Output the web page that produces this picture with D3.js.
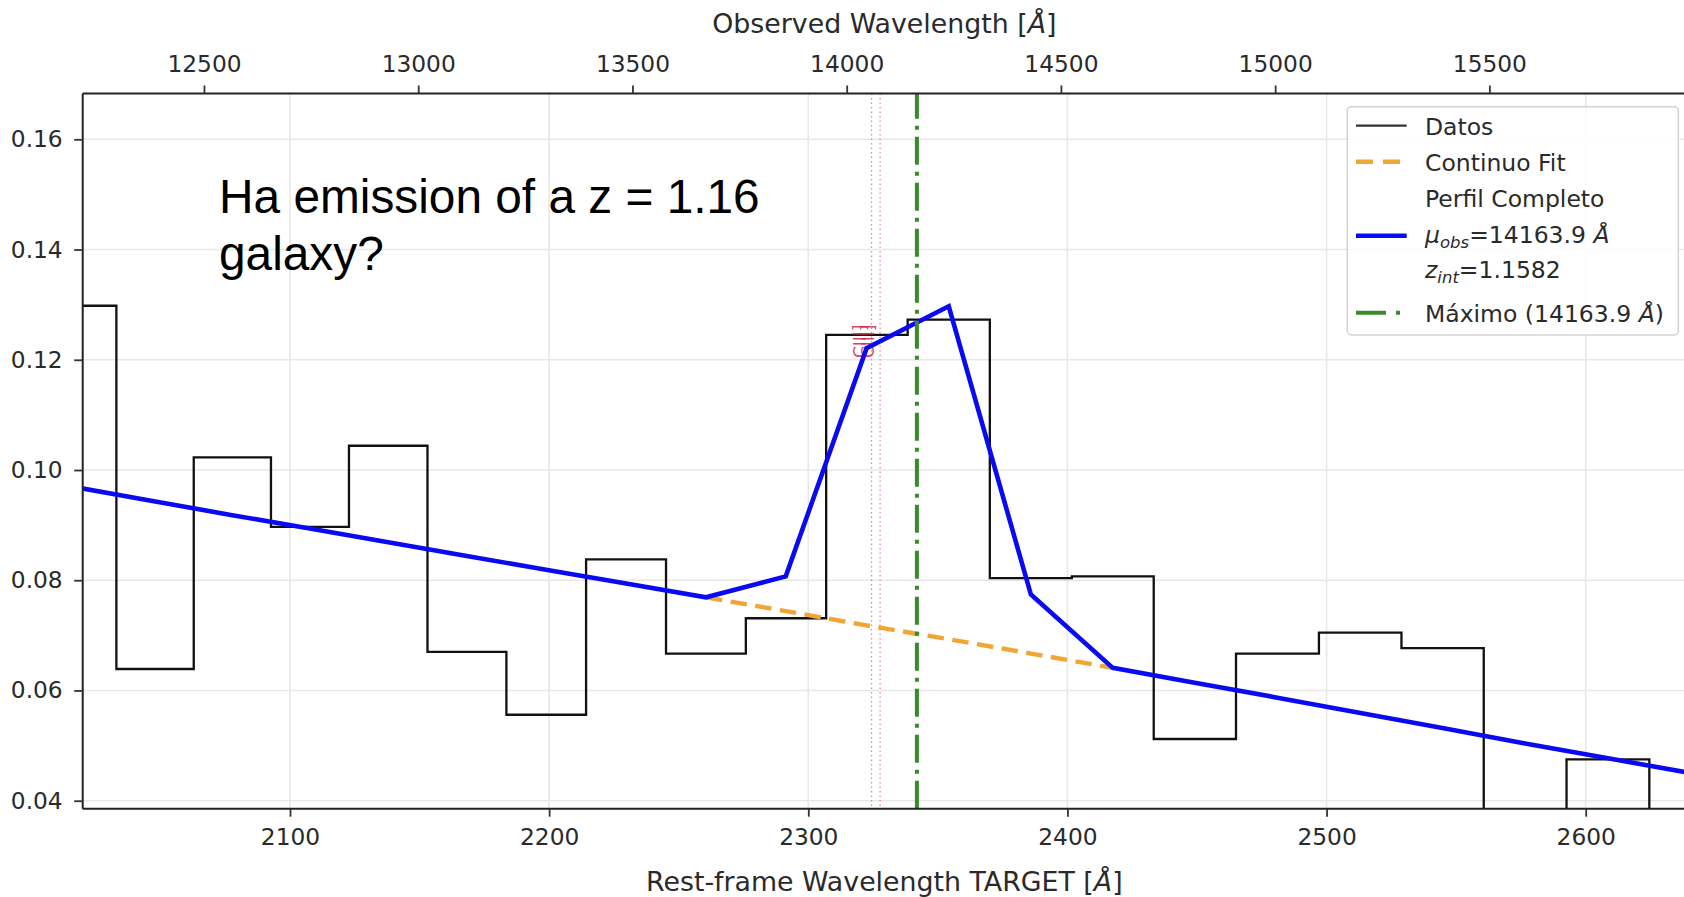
<!DOCTYPE html>
<html><head><meta charset="utf-8">
<script src="https://cdn.jsdelivr.net/npm/d3@7"></script>
<style>body{margin:0;background:#fff;} svg{display:block;}</style>
</head><body>
<svg id="chart" width="1684" height="897"></svg>
<script>
// ---- data ----
const restWavelength = [2018.0, 2048.0, 2077.7, 2107.6, 2137.9, 2168.2, 2198.8, 2229.7, 2260.5, 2291.3,
  2322.5, 2354.2, 2385.9, 2417.5, 2449.1, 2481.0, 2513.1, 2544.7, 2576.6, 2608.6, 2640.5];
const fluxData = [0.1298, 0.0639, 0.1023, 0.0897, 0.1044, 0.0670, 0.0556, 0.0838, 0.0667, 0.0731,
  0.1245, 0.1273, 0.0804, 0.0807, 0.0512, 0.0667, 0.0705, 0.0677, 0.0320, 0.0475, 0.0330];
const profileFlux = [0.0968, 0.0943, 0.0918, 0.0894, 0.0869, 0.0844, 0.0819, 0.0794, 0.0769, 0.0807,
  0.1221, 0.1297, 0.0774, 0.0641, 0.0614, 0.0587, 0.0559, 0.0532, 0.0504, 0.0477, 0.0450];
const contWavelength = [2260.5, 2291.3, 2322.5, 2354.2, 2385.9, 2417.5];
const contFlux = [0.0769, 0.0744, 0.0718, 0.0693, 0.0667, 0.0641];
const muObs = 14163.9;
const zInt = 1.1582;
const markerObs = [14058, 14078];
const markerLabels = ["CIII]", "CIII]"];
const restTicks = [2100, 2200, 2300, 2400, 2500, 2600];
const obsTicks = [12500, 13000, 13500, 14000, 14500, 15000, 15500];
const fluxTicks = [0.04, 0.06, 0.08, 0.10, 0.12, 0.14, 0.16];
const obsPerRest = 6.048;
const restDomain = [2020, 2638.7];
const fluxDomain = [0.03855, 0.16831];
const annotationLines = ["Ha emission of a z = 1.16", "galaxy?"];

// ---- layout ----
const L = 82.7, R = 1686, T = 93.5, B = 808.7;
const FONT = "'DejaVu Sans', sans-serif";
const TICKFS = 23.3, LEGFS = 23.5, TITLEFS = 26.8;
const svg = d3.select("#chart");

const x = d3.scaleLinear().domain(restDomain).range([L, R]);
const xTop = d3.scaleLinear().domain(restDomain.map(d => d * obsPerRest)).range([L, R]);
const y = d3.scaleLinear().domain(fluxDomain).range([B, T]);

svg.append("defs").append("clipPath").attr("id", "clip")
  .append("rect").attr("x", L).attr("y", T).attr("width", R - L).attr("height", B - T);

// grid
const grid = svg.append("g");
grid.selectAll("line.gx").data(restTicks).join("line")
  .attr("x1", d => x(d)).attr("x2", d => x(d)).attr("y1", T).attr("y2", B)
  .attr("stroke", "#e8e8e8").attr("stroke-width", 1.6);
grid.selectAll("line.gy").data(fluxTicks).join("line")
  .attr("x1", L).attr("x2", R).attr("y1", d => y(d)).attr("y2", d => y(d))
  .attr("stroke", "#e8e8e8").attr("stroke-width", 1.6);

const plot = svg.append("g").attr("clip-path", "url(#clip)");

// data steps
const stepLine = d3.line().x(d => x(d[0])).y(d => y(d[1])).curve(d3.curveStep);
plot.append("path").datum(restWavelength.map((w, i) => [w, fluxData[i]]))
  .attr("d", stepLine).attr("fill", "none").attr("stroke", "#111").attr("stroke-width", 2.3);

// markers (red dotted)
plot.selectAll("line.mk").data(markerObs).join("line")
  .attr("x1", d => xTop(d)).attr("x2", d => xTop(d)).attr("y1", T).attr("y2", B)
  .attr("stroke", "#e58a94").attr("stroke-width", 1.3).attr("stroke-dasharray", "1.5,3");
plot.selectAll("text.mk").data(markerObs).join("text")
  .attr("transform", d => `translate(${xTop(d) - 12},${y(0.1203)}) rotate(-90)`)
  .attr("dominant-baseline", "central")
  .attr("font-family", FONT).attr("font-size", 17).attr("fill", "#d42e48").attr("fill-opacity", 0.9)
  .text((d, i) => markerLabels[i]);

// continuum fit
const line = d3.line().x(d => x(d[0])).y(d => y(d[1]));
plot.append("path").datum(contWavelength.map((w, i) => [w, contFlux[i]]))
  .attr("d", line).attr("fill", "none").attr("stroke", "#f0a535").attr("stroke-width", 4.4)
  .attr("stroke-dasharray", "16.5,8.5");

// full profile
plot.append("path").datum(restWavelength.map((w, i) => [w, profileFlux[i]]))
  .attr("d", line).attr("fill", "none").attr("stroke", "#0a0af2").attr("stroke-width", 4.6)
  .attr("stroke-linejoin", "miter");

// maximum
plot.append("line").attr("x1", xTop(muObs)).attr("x2", xTop(muObs)).attr("y1", B).attr("y2", T)
  .attr("stroke", "#3a8a2c").attr("stroke-width", 4).attr("stroke-dasharray", "28,7,4,7");

// spines
svg.append("path").attr("d", `M${L},${B}H${R}M${L},${T}H${R}M${L},${T}V${B}M${R},${T}V${B}`)
  .attr("fill", "none").attr("stroke", "#222").attr("stroke-width", 2);

// axes
function styleAxis(g) {
  g.select(".domain").remove();
  g.selectAll(".tick line").attr("stroke", "#333").attr("stroke-width", 1.8);
  g.selectAll(".tick text").attr("font-family", FONT).attr("font-size", TICKFS).attr("fill", "#2a2a2a");
}
svg.append("g").attr("transform", `translate(0,${B})`)
  .call(d3.axisBottom(x).tickValues(restTicks).tickSize(8).tickPadding(11.5).tickFormat(d3.format("d")))
  .call(styleAxis);
svg.append("g").attr("transform", `translate(0,${T})`)
  .call(d3.axisTop(xTop).tickValues(obsTicks).tickSize(8).tickPadding(13.5).tickFormat(d3.format("d")))
  .call(styleAxis);
svg.append("g").attr("transform", `translate(${L},0)`)
  .call(d3.axisLeft(y).tickValues(fluxTicks).tickSize(8.5).tickPadding(11.5).tickFormat(d3.format(".2f")))
  .call(styleAxis);

// axis titles
const topTitle = svg.append("text").attr("x", (L + R) / 2).attr("y", 33).attr("text-anchor", "middle")
  .attr("font-family", FONT).attr("font-size", TITLEFS).attr("fill", "#2a2a2a");
topTitle.append("tspan").text("Observed Wavelength [");
topTitle.append("tspan").attr("font-style", "italic").text("Å");
topTitle.append("tspan").text("]");
const botTitle = svg.append("text").attr("x", (L + R) / 2).attr("y", 891).attr("text-anchor", "middle")
  .attr("font-family", FONT).attr("font-size", TITLEFS).attr("fill", "#2a2a2a");
botTitle.append("tspan").text("Rest-frame Wavelength TARGET [");
botTitle.append("tspan").attr("font-style", "italic").text("Å");
botTitle.append("tspan").text("]");

// annotation
svg.append("g").selectAll("text").data(annotationLines).join("text")
  .attr("x", 219).attr("y", (d, i) => 213 + i * 57)
  .attr("font-family", "'Liberation Sans', Arial, sans-serif").attr("font-size", 47.8).attr("fill", "#000")
  .text(d => d);

// legend
const lg = svg.append("g");
lg.append("rect").attr("x", 1347.3).attr("y", 106.7).attr("width", 331).attr("height", 228.3)
  .attr("rx", 4).attr("fill", "#fff").attr("fill-opacity", 0.85).attr("stroke", "#d4d4d4").attr("stroke-width", 1.5);
const hx1 = 1356, hx2 = 1406.7, tx = 1425;
lg.append("line").attr("x1", hx1).attr("x2", hx2).attr("y1", 125.7).attr("y2", 125.7)
  .attr("stroke", "#333").attr("stroke-width", 2.2);
lg.append("line").attr("x1", hx1).attr("x2", hx2).attr("y1", 161.7).attr("y2", 161.7)
  .attr("stroke", "#f0a535").attr("stroke-width", 4.4).attr("stroke-dasharray", "17,10");
lg.append("line").attr("x1", hx1).attr("x2", hx2).attr("y1", 235.7).attr("y2", 235.7)
  .attr("stroke", "#0a0af2").attr("stroke-width", 4.6);
lg.append("line").attr("x1", hx1).attr("x2", hx2).attr("y1", 312.7).attr("y2", 312.7)
  .attr("stroke", "#3a8a2c").attr("stroke-width", 4).attr("stroke-dasharray", "30,10,4,10");
function ltext(yb) {
  return lg.append("text").attr("x", tx).attr("y", yb).attr("font-family", FONT)
    .attr("font-size", LEGFS).attr("fill", "#2a2a2a");
}
ltext(135).text("Datos");
ltext(171).text("Continuo Fit");
ltext(206.7).text("Perfil Completo");
const t1 = ltext(243.3);
t1.append("tspan").attr("font-style", "italic").text("μ");
t1.append("tspan").attr("font-style", "italic").attr("font-size", 16.5).attr("dy", 5).text("obs");
t1.append("tspan").attr("dy", -5).text(`=${muObs.toFixed(1)} `);
t1.append("tspan").attr("font-style", "italic").text("Å");
const t2 = ltext(277.7);
t2.append("tspan").attr("font-style", "italic").text("z");
t2.append("tspan").attr("font-style", "italic").attr("font-size", 16.5).attr("dy", 5).text("int");
t2.append("tspan").attr("dy", -5).text(`=${zInt.toFixed(4)}`);
const t3 = ltext(322.3);
t3.append("tspan").text(`Máximo (${muObs.toFixed(1)} `);
t3.append("tspan").attr("font-style", "italic").text("Å");
t3.append("tspan").text(")");
</script>
</body></html>
